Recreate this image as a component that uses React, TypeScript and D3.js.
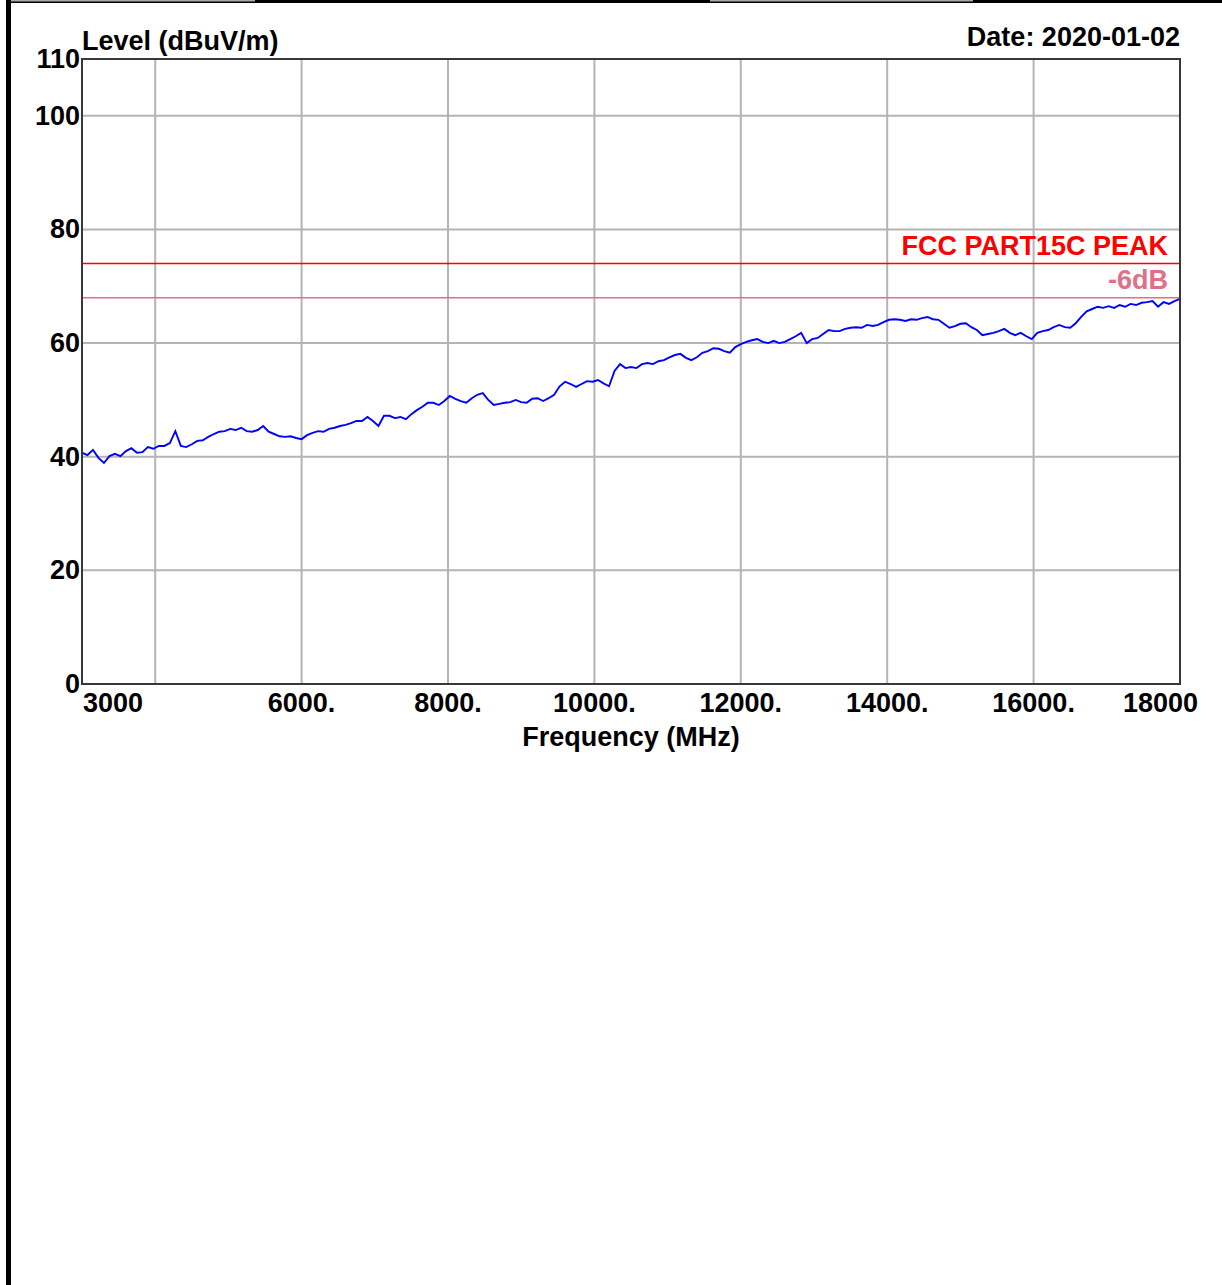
import { useEffect, useRef } from 'react';
import * as d3 from 'd3';

// sweep settings (MHz)
const sweepStart = 3000;
const sweepStep = 75;

// measured level, dBuV/m, one value per sweep step (3000 .. 18000 MHz)
const levels = [
  40.7, 40.3, 41.2, 39.8, 38.9, 40.1, 40.5, 40.1, 41.0, 41.5,
  40.7, 40.8, 41.7, 41.4, 41.9, 41.9, 42.4, 44.5, 41.9, 41.7,
  42.2, 42.8, 42.9, 43.5, 44.0, 44.4, 44.5, 44.9, 44.7, 45.1,
  44.5, 44.4, 44.7, 45.4, 44.4, 44.0, 43.6, 43.5, 43.6, 43.3,
  43.1, 43.8, 44.2, 44.5, 44.4, 44.9, 45.1, 45.4, 45.6, 45.9,
  46.3, 46.3, 47.0, 46.3, 45.4, 47.2, 47.2, 46.8, 47.0, 46.6,
  47.5, 48.2, 48.8, 49.5, 49.5, 49.1, 49.8, 50.7, 50.2, 49.8,
  49.5, 50.3, 50.9, 51.2, 50.0, 49.1, 49.3, 49.5, 49.6, 50.0,
  49.6, 49.5, 50.2, 50.3, 49.8, 50.3, 50.9, 52.4, 53.2, 52.8,
  52.3, 52.8, 53.3, 53.2, 53.5, 52.9, 52.4, 55.1, 56.3, 55.6,
  55.8, 55.6, 56.3, 56.5, 56.3, 56.8, 57.0, 57.5, 57.9, 58.1,
  57.4, 57.0, 57.5, 58.3, 58.6, 59.1, 59.0, 58.6, 58.3, 59.3,
  59.8, 60.2, 60.5, 60.7, 60.2, 60.0, 60.4, 60.0, 60.2, 60.7,
  61.2, 61.8, 60.0, 60.7, 60.9, 61.6, 62.3, 62.1, 62.1, 62.5,
  62.7, 62.8, 62.7, 63.2, 63.0, 63.2, 63.7, 64.1, 64.2, 64.1,
  63.9, 64.2, 64.1, 64.4, 64.6, 64.2, 64.1, 63.4, 62.7, 63.0,
  63.4, 63.5, 62.8, 62.3, 61.4, 61.6, 61.8, 62.1, 62.5, 61.8,
  61.4, 61.8, 61.2, 60.7, 61.8, 62.1, 62.3, 62.8, 63.2, 62.8,
  62.7, 63.5, 64.6, 65.6, 66.0, 66.4, 66.2, 66.5, 66.2, 66.7,
  66.4, 66.9, 66.7, 67.1, 67.2, 67.4, 66.4, 67.2, 66.9, 67.4,
  67.8,
];

const yTicks = [0, 20, 40, 60, 80, 100, 110];
const yGrid = [20, 40, 60, 80, 100];
const xGrid = [4000, 6000, 8000, 10000, 12000, 14000, 16000];
const xLabels = ['3000', '6000.', '8000.', '10000.', '12000.', '14000.', '16000.', '18000'];
const xLabelValues = [3000, 6000, 8000, 10000, 12000, 14000, 16000, 18000];

const limits = [
  { name: 'FCC PART15C PEAK', value: 74, color: '#ff0000' },
  { name: '-6dB', value: 68, color: '#e07088' },
];

export default function App() {
  const svgRef = useRef<SVGSVGElement>(null);

  useEffect(() => {
    const width = 1222;
    const height = 1285;
    const margin = { top: 59, right: 42, bottom: 601, left: 82 };
    const font = '"Liberation Sans", Arial, sans-serif';
    const fs = 27;

    const x = d3
      .scaleLinear()
      .domain([3000, 18000])
      .range([margin.left, width - margin.right]);

    const y = d3
      .scaleLinear()
      .domain([0, 110])
      .range([height - margin.bottom, margin.top]);

    const svg = d3.select(svgRef.current);
    svg.selectAll('*').remove();

    // page frame remnants
    svg.append('rect').attr('x', 0).attr('y', 0).attr('width', width).attr('height', height).attr('fill', '#fff');
    svg.append('rect').attr('x', 6).attr('y', 0).attr('width', 5).attr('height', height).attr('fill', '#000');
    svg.append('rect').attr('x', 6).attr('y', 0).attr('width', width - 6).attr('height', 3).attr('fill', '#000');
    svg.append('rect').attr('x', 11).attr('y', 0).attr('width', 244).attr('height', 1.5).attr('fill', '#a8a8a8');
    svg.append('rect').attr('x', 710).attr('y', 0).attr('width', 263).attr('height', 1.5).attr('fill', '#a8a8a8');

    // grid
    const grid = svg.append('g').attr('stroke', '#b4b4b4').attr('stroke-width', 2);
    grid
      .selectAll('line.h')
      .data(yGrid)
      .enter()
      .append('line')
      .attr('x1', x(3000))
      .attr('x2', x(18000))
      .attr('y1', d => y(d))
      .attr('y2', d => y(d));
    grid
      .selectAll('line.v')
      .data(xGrid)
      .enter()
      .append('line')
      .attr('x1', d => x(d))
      .attr('x2', d => x(d))
      .attr('y1', y(110))
      .attr('y2', y(0));

    // limit lines
    svg
      .append('g')
      .selectAll('line')
      .data(limits)
      .enter()
      .append('line')
      .attr('x1', x(3000))
      .attr('x2', x(18000))
      .attr('y1', d => y(d.value))
      .attr('y2', d => y(d.value))
      .attr('stroke', d => d.color)
      .attr('stroke-width', 1.5);

    svg
      .append('g')
      .selectAll('text')
      .data(limits)
      .enter()
      .append('text')
      .attr('x', x(18000) - 12)
      .attr('y', d => y(d.value) - 9)
      .attr('text-anchor', 'end')
      .attr('fill', d => d.color)
      .style('font', `bold ${fs}px ${font}`)
      .text(d => d.name);

    // trace
    const line = d3
      .line<number>()
      .x((_, i) => x(sweepStart + i * sweepStep))
      .y(d => y(d));
    svg
      .append('path')
      .datum(levels)
      .attr('d', line)
      .attr('fill', 'none')
      .attr('stroke', '#0000ff')
      .attr('stroke-width', 1.9);

    // frame
    svg
      .append('rect')
      .attr('x', x(3000))
      .attr('y', y(110))
      .attr('width', x(18000) - x(3000))
      .attr('height', y(0) - y(110))
      .attr('fill', 'none')
      .attr('stroke', '#383838')
      .attr('stroke-width', 2);

    // y labels
    svg
      .append('g')
      .selectAll('text')
      .data(yTicks)
      .enter()
      .append('text')
      .attr('x', x(3000) - 2)
      .attr('y', d => y(d) + 9)
      .attr('text-anchor', 'end')
      .style('font', `bold ${fs}px ${font}`)
      .text(d => d);

    // x labels
    svg
      .append('g')
      .selectAll('text')
      .data(xLabelValues)
      .enter()
      .append('text')
      .attr('x', (d, i) => (i === 0 ? x(d) + 1 : i === xLabels.length - 1 ? x(d) + 18 : x(d)))
      .attr('y', y(0) + 28)
      .attr('text-anchor', (_, i) => (i === 0 ? 'start' : i === xLabels.length - 1 ? 'end' : 'middle'))
      .style('font', `bold ${fs}px ${font}`)
      .text((_, i) => xLabels[i]);

    // titles
    svg
      .append('text')
      .attr('x', x(3000))
      .attr('y', 50)
      .style('font', `bold ${fs}px ${font}`)
      .text('Level (dBuV/m)');
    svg
      .append('text')
      .attr('x', x(18000))
      .attr('y', 46)
      .attr('text-anchor', 'end')
      .style('font', `bold ${fs}px ${font}`)
      .text('Date: 2020-01-02');
    svg
      .append('text')
      .attr('x', (x(3000) + x(18000)) / 2)
      .attr('y', 746)
      .attr('text-anchor', 'middle')
      .style('font', `bold ${fs}px ${font}`)
      .text('Frequency (MHz)');
  }, []);

  return (
    <svg
      ref={svgRef}
      width={1222}
      height={1285}
      style={{ position: 'absolute', left: 0, top: 0, display: 'block' }}
    ></svg>
  );
}
